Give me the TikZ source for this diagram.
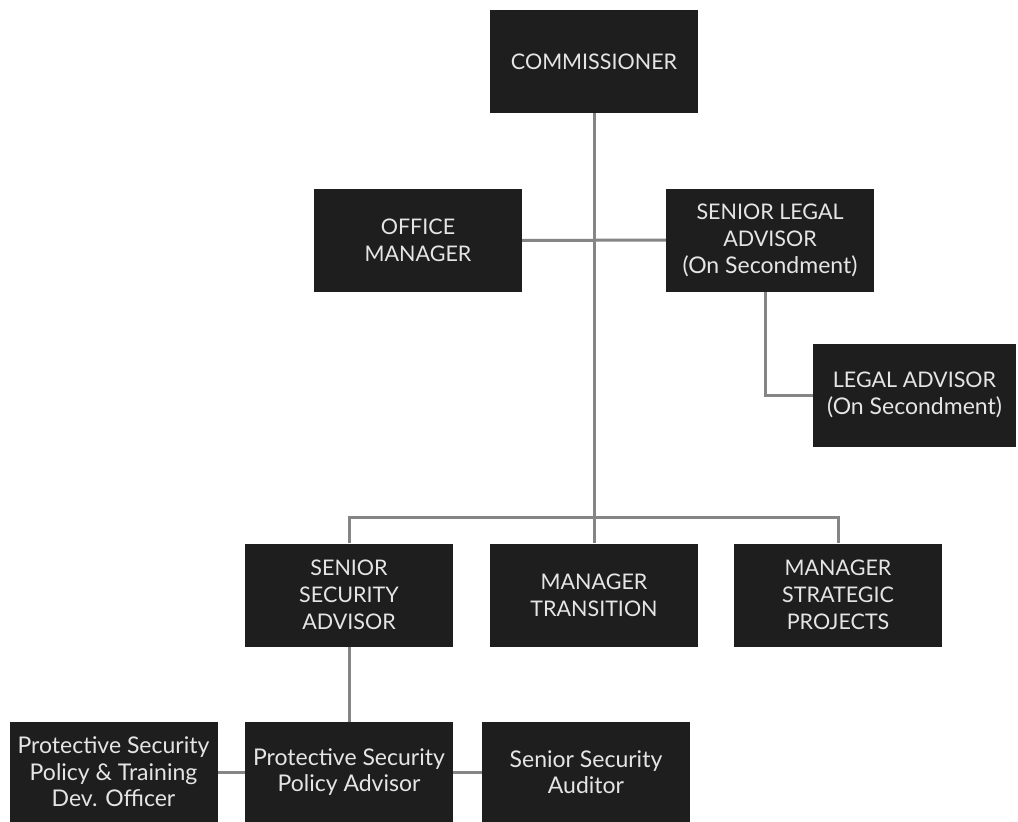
\documentclass[tikz,border=0pt]{standalone}
\usepackage{fontspec}
\setmainfont{Lato}
\definecolor{boxfill}{HTML}{1E1E1E}
\definecolor{linkgray}{HTML}{858585}
\newcommand{\secnote}{{\fontsize{23}{27}\selectfont(On Secondment)}}
\tikzset{
  orgbox/.style={fill=boxfill, text=white!90!black, minimum width=208pt,
    minimum height=103pt, inner sep=2pt, align=center,
    font=\fontsize{21.5}{27}\selectfont},
  lowbox/.style={orgbox, minimum height=100pt,
    font=\fontsize{23}{26.5}\selectfont},
  link/.style={draw=linkgray, line width=3pt}
}
\begin{document}
\begin{tikzpicture}[x=1pt, y=-1pt]
  \useasboundingbox[fill=white] (0,0) rectangle (1018,822);

  \node[orgbox] (comm) at (594,61.5) {COMMISSIONER};
  \node[orgbox] (office) at (418,240.5) {OFFICE\\MANAGER};
  \node[orgbox] (seniorlegal) at (770,240) {SENIOR LEGAL\\ADVISOR\\\secnote};
  \node[orgbox, minimum width=203pt] (legal) at (914.5,395) {LEGAL ADVISOR\\\secnote};

  \node[orgbox] (security) at (349,595) {SENIOR\\SECURITY\\ADVISOR};
  \node[orgbox] (transition) at (594,595) {MANAGER\\TRANSITION};
  \node[orgbox] (strategic) at (838,595) {MANAGER\\STRATEGIC\\PROJECTS};

  \node[lowbox] (training) at (113.5,772) {Protective Security\\Policy \& Training\\Dev. Officer};
  \node[lowbox] (policy) at (349,772) {Protective Security\\Policy Advisor};
  \node[lowbox] (auditor) at (586,772) {Senior Security\\Auditor};

  \coordinate (bar) at (594,517);

  % reporting lines
  \draw[link] (comm.south) -- (transition.north);
  \draw[link] (office.east) -- (seniorlegal.west);
  \draw[link] ([xshift=-5pt]seniorlegal.south) |- (legal.west);
  \draw[link] (security.north) |- (bar) -| (strategic.north);
  \draw[link] (security.south) -- (policy.north);
  \draw[link] (training.east) -- (policy.west);
  \draw[link] (policy.east) -- (auditor.west);
\end{tikzpicture}
\end{document}
